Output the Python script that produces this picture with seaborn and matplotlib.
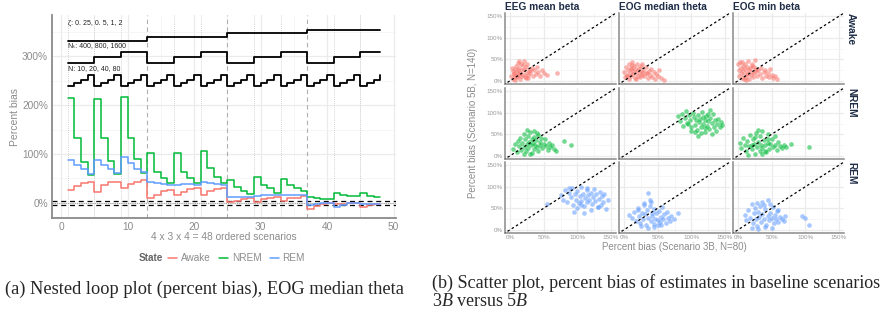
import itertools
import numpy as np
import pandas as pd
import seaborn as sns
import matplotlib
matplotlib.use("Agg")
import matplotlib.pyplot as plt
from matplotlib.lines import Line2D
from matplotlib.ticker import FuncFormatter, MultipleLocator

# ---- (a) nested loop plot, EOG median theta ----
scenarios = list(range(1, 49))
awake_bias = [26, 34, 41, 43, 23, 36, 42, 43, 30, 38, 42, 47,
              9, 17, 24, 26, 16, 23, 29, 30, 17, 24, 29, 31,
              2, 4, 7, 10, 2, 8, 10, 13, 4, 9, 11, 14,
              -13, -6, -2, 0, -3, -2, -1, -1, -8, -4, -2, -2]
nrem_bias = [214, 133, 84, 58, 212, 132, 85, 60, 217, 132, 89, 62,
             103, 64, 50, 40, 103, 64, 50, 40, 106, 71, 52, 41,
             47, 33, 25, 18, 53, 36, 30, 21, 48, 36, 30, 25,
             13, 10, 8, 8, 21, 16, 14, 14, 21, 15, 13, 13]
rem_bias = [88, 77, 69, 60, 88, 77, 69, 61, 95, 81, 69, 64,
            42, 40, 38, 36, 37, 38, 38, 37, 42, 40, 38, 36,
            12, 12, 13, 13, 15, 16, 16, 16, 16, 17, 17, 17,
            -5, -2, -1, 0, -8, -4, -1, 0, -2, -2, -3, -3]

# design parameters (outer -> inner loop) and heights of their step lines
zeta_levels = [0.25, 0.5, 1, 2]
nt_levels = [400, 800, 1600]
n_levels = [10, 20, 40, 80]
zeta_heights = [332, 340, 348, 355]
nt_heights = [287, 299, 309]
n_heights = [240, 246, 252, 263]

states = ["Awake", "NREM", "REM"]
state_colors = {"Awake": "#F8766D", "NREM": "#00BA38", "REM": "#619CFF"}

# ---- (b) scatter, scenario 3B (x) vs 5B (y), percent bias ----
features = ["EEG mean beta", "EOG median theta", "EOG min beta"]

aw_eeg_x = [2, 4, 5, 6, 7, 8, 9, 10, 11, 12, 12, 13, 14, 15, 15, 16, 17, 18, 19, 20, 21, 22, 23, 24,
            25, 26, 27, 28, 30, 32, 34, 36, 38, 40, 42, 45, 48, 50, 55, 70, 3, 8, 14, 19, 24, 29, 11, 6]
aw_eeg_y = [10, 22, 5, 15, 28, 12, 35, 20, 8, 25, 42, 16, 30, 4, 18, 11, 38, 24, 14, 47, 27, 9, 33, 19,
            40, 13, 6, 22, 17, 29, 10, 24, 15, 31, 20, 12, 26, 18, 14, 17, 30, 2, 45, 36, 7, 25, 12, 18]
aw_med_x = [0, 2, 3, 5, 6, 7, 8, 9, 10, 11, 12, 13, 14, 15, 16, 17, 18, 19, 20, 21, 22, 23, 24, 25,
            26, 27, 28, 30, 32, 33, 35, 37, 38, 40, 42, 44, 46, 48, 50, 52, 55, 60, 4, 10, 18, 26, 34, 12]
aw_med_y = [20, 8, 32, 14, 25, 4, 38, 18, 28, 10, 44, 22, 15, 34, 6, 27, 19, 40, 12, 24, 30, 8, 17, 35,
            21, 13, 26, 10, 18, 31, 6, 22, 14, 28, 9, 20, 5, 16, 11, 24, 7, 2, 12, 30, 3, 38, 18, 36]
aw_min_x = [0, 1, 2, 3, 4, 5, 6, 7, 8, 9, 10, 11, 12, 13, 14, 15, 16, 17, 18, 19, 20, 21, 22, 23,
            24, 25, 26, 28, 30, 32, 34, 36, 38, 40, 42, 44, 46, 48, 50, 52, 55, 58, 6, 12, 20, 27, 15, 9]
aw_min_y = [40, 25, 12, 43, 18, 30, 6, 35, 22, 14, 40, 27, 9, 33, 19, 45, 24, 4, 29, 13, 38, 20, 8, 31,
            17, 48, 23, 11, 26, 16, 30, 7, 20, 24, 12, 18, 9, 28, 14, 6, 10, 4, 44, 2, 34, 27, 15, 5]

nr_eeg_x = [5, 8, 10, 12, 14, 15, 17, 18, 20, 21, 22, 24, 25, 26, 27, 28, 30, 31, 32, 33, 34, 35, 36, 37,
            38, 40, 41, 42, 44, 45, 46, 48, 50, 52, 54, 56, 58, 60, 62, 65, 68, 80, 90, 20, 30, 40, 25, 35]
nr_eeg_y = [15, 28, 8, 35, 22, 42, 14, 30, 50, 20, 38, 10, 27, 45, 18, 33, 55, 24, 6, 40, 30, 15, 58, 26,
            36, 20, 48, 12, 32, 25, 42, 18, 28, 38, 22, 14, 30, 20, 26, 16, 12, 35, 25, 5, 3, 52, 60, 44]
nr_med_x = [80, 83, 86, 88, 90, 92, 94, 96, 98, 100, 102, 104, 105, 107, 108, 110, 112, 113, 115, 116, 118, 120, 121, 122,
            124, 125, 126, 128, 130, 131, 132, 134, 135, 136, 138, 140, 142, 144, 146, 110, 115, 120, 125, 100, 95, 128, 118, 106]
nr_med_y = [92, 80, 98, 70, 88, 104, 76, 95, 84, 66, 100, 90, 72, 82, 60, 94, 78, 86, 68, 102, 74, 84, 55, 92,
            70, 80, 62, 88, 76, 50, 96, 66, 82, 58, 74, 86, 68, 78, 72, 46, 52, 64, 98, 58, 74, 106, 90, 56]
nr_min_x = [3, 5, 8, 10, 12, 14, 16, 18, 20, 22, 24, 25, 26, 28, 30, 32, 33, 34, 35, 36, 38, 40, 42, 44,
            45, 46, 48, 50, 52, 55, 58, 60, 62, 65, 68, 72, 78, 105, 15, 25, 35, 45, 30, 40, 20, 55]
nr_min_y = [30, 18, 42, 25, 10, 35, 22, 48, 15, 38, 28, 5, 52, 20, 33, 12, 45, 26, 58, 18, 36, 24, 8, 30,
            50, 16, 28, 38, 20, 26, 14, 32, 22, 18, 24, 20, 28, 20, 2, 44, 4, 40, 60, 12, 26, 46]

rm_eeg_x = [55, 75, 78, 82, 85, 88, 90, 92, 94, 96, 98, 100, 102, 104, 105, 106, 108, 110, 112, 114, 115, 116, 118, 120,
            122, 124, 125, 126, 128, 130, 132, 134, 135, 136, 138, 140, 142, 145, 95, 100, 110, 120, 130, 115, 105, 88]
rm_eeg_y = [60, 80, 70, 92, 64, 86, 76, 98, 58, 82, 70, 90, 62, 78, 100, 68, 84, 56, 74, 92, 64, 80, 70, 86,
            60, 76, 94, 66, 82, 52, 72, 88, 58, 78, 64, 84, 48, 70, 42, 50, 40, 46, 54, 96, 58, 98]
rm_med_x = [8, 12, 15, 18, 20, 22, 24, 26, 28, 30, 31, 32, 34, 35, 36, 38, 40, 41, 42, 44, 45, 46, 48, 50,
            52, 54, 55, 56, 58, 60, 62, 64, 66, 68, 70, 74, 80, 25, 35, 45, 55, 30, 40, 50, 20, 38]
rm_med_y = [35, 28, 42, 20, 50, 32, 15, 40, 25, 62, 36, 10, 46, 85, 28, 55, 20, 40, 32, 14, 48, 26, 38, 22,
            44, 18, 30, 52, 24, 36, 16, 42, 28, 20, 32, 24, 38, 8, 4, 6, 12, 58, 64, 10, 45, 70]
rm_min_x = [10, 12, 15, 18, 20, 22, 24, 25, 26, 28, 30, 31, 32, 34, 35, 36, 38, 40, 42, 44, 45, 46, 48, 50,
            52, 54, 55, 56, 58, 60, 62, 65, 68, 70, 95, 100, 105, 20, 30, 40, 50, 28, 38, 48, 60]
rm_min_y = [35, 22, 45, 28, 60, 15, 38, 50, 25, 8, 42, 30, 55, 18, 65, 36, 24, 48, 12, 32, 70, 22, 40, 28,
            52, 16, 35, 24, 44, 18, 30, 26, 20, 32, 32, 28, 12, 5, 2, 6, 4, 62, 58, 60, 45]

scatter_sets = {
    ("Awake", "EEG mean beta"): (aw_eeg_x, aw_eeg_y),
    ("Awake", "EOG median theta"): (aw_med_x, aw_med_y),
    ("Awake", "EOG min beta"): (aw_min_x, aw_min_y),
    ("NREM", "EEG mean beta"): (nr_eeg_x, nr_eeg_y),
    ("NREM", "EOG median theta"): (nr_med_x, nr_med_y),
    ("NREM", "EOG min beta"): (nr_min_x, nr_min_y),
    ("REM", "EEG mean beta"): (rm_eeg_x, rm_eeg_y),
    ("REM", "EOG median theta"): (rm_med_x, rm_med_y),
    ("REM", "EOG min beta"): (rm_min_x, rm_min_y),
}

# ---------------------------------------------------------------
sns.set_style("white")
plt.rcParams["font.family"] = ["Liberation Sans", "DejaVu Sans"]
plt.rcParams["mathtext.fontset"] = "custom"
plt.rcParams["mathtext.rm"] = "Liberation Serif"
plt.rcParams["mathtext.it"] = "Liberation Serif:italic"

W, H = 893, 316
fig = plt.figure(figsize=(W / 100, H / 100), dpi=100)


def px_axes(x0, y0, x1, y1):
    return fig.add_axes([x0 / W, 1 - y1 / H, (x1 - x0) / W, (y1 - y0) / H])


pct = FuncFormatter(lambda v, p: f"{v:.0f}%")
grid_major = dict(color="#EBEBEB", lw=0.9)
grid_minor = dict(color="#F3F3F3", lw=0.5)
axis_grey = "#8A8A8A"

# ---- left panel ----
ax = px_axes(52, 15, 396, 218)
long = pd.DataFrame({
    "scenario": scenarios * 3,
    "bias": awake_bias + nrem_bias + rem_bias,
    "State": sum([[s] * len(scenarios) for s in states], []),
})

design = list(itertools.product(range(len(zeta_levels)), range(len(nt_levels)), range(len(n_levels))))
zeta_line = [zeta_heights[d[0]] for d in design]
nt_line = [nt_heights[d[1]] for d in design]
n_line = [n_heights[d[2]] for d in design]

# guide lines for the loops
for i, s in enumerate(scenarios):
    if i % 12 == 0 and i > 0:
        ax.axvline(s, color="#B0B0B0", lw=0.8, ls=(0, (4, 3)), zorder=1)
    elif i % 4 == 0:
        ax.axvline(s, color="#C4C4C4", lw=0.6, ls=(0, (1, 1.5)), zorder=1)

ax.axhline(0, color="#A0A0A0", lw=0.8, ls=(0, (1, 1)), zorder=2)
ax.axhline(4, color="black", lw=0.9, ls=(0, (4, 3)), zorder=2)
ax.axhline(-4, color="black", lw=0.9, ls=(0, (4, 3)), zorder=2)

sns.lineplot(data=long, x="scenario", y="bias", hue="State", palette=state_colors,
             estimator=None, drawstyle="steps-post", lw=1.1, legend=False, ax=ax, zorder=3)
for line in (zeta_line, nt_line, n_line):
    sns.lineplot(x=scenarios, y=line, color="black", drawstyle="steps-post", lw=1.3,
                 estimator=None, ax=ax, zorder=3)

txt_kw = dict(fontsize=5, color="#222222", ha="left", va="center")
ax.text(1, 369, "ζ: 0. 25, 0. 5, 1, 2", **txt_kw)
ax.text(1, 322, "Nₜ: 400, 800, 1600", **txt_kw)
ax.text(1, 276, "N: 10, 20, 40, 80", **txt_kw)

ax.set_xlim(-1.35, 50.35)
ax.set_ylim(-31, 385)
ax.xaxis.set_major_locator(MultipleLocator(10))
ax.xaxis.set_minor_locator(MultipleLocator(5))
ax.yaxis.set_major_locator(MultipleLocator(100))
ax.yaxis.set_minor_locator(MultipleLocator(50))
ax.yaxis.set_major_formatter(pct)
ax.grid(which="major", **grid_major)
ax.grid(which="minor", **grid_minor)
ax.set_axisbelow(True)
ax.tick_params(length=0, labelsize=7.3, labelcolor="#8C8C8C", pad=3)
for side in ["top", "right"]:
    ax.spines[side].set_visible(False)
for side in ["left", "bottom"]:
    ax.spines[side].set_color(axis_grey)
    ax.spines[side].set_linewidth(1.3)
ax.set_xlabel("")
ax.set_ylabel("")
fig.text(15 / W, 1 - 117 / H, "Percent bias", rotation=90, ha="center", va="center",
         fontsize=7.5, color="#8C8C8C")
fig.text(224 / W, 1 - 237 / H, "4 x 3 x 4 = 48 ordered scenarios", ha="center", va="center",
         fontsize=7.3, color="#8C8C8C")

fig.text(151 / W, 1 - 258 / H, "State", ha="center", va="center", fontsize=7.2,
         fontweight="bold", color="#666666")
handles = [Line2D([], [], color=state_colors[s], lw=1.1) for s in states]
leg = fig.legend(handles, states, loc="center left", bbox_to_anchor=(168 / W, 1 - 258 / H), ncol=3,
                 frameon=False, fontsize=7.2, handlelength=0.9, handletextpad=0.4,
                 columnspacing=0.8, borderpad=0, borderaxespad=0)
for t in leg.get_texts():
    t.set_color("#8C8C8C")

fig.text(204 / W, 1 - 289 / H, "(a) Nested loop plot (percent bias), EOG median theta",
         ha="center", va="center", fontsize=13.2, family="Liberation Serif")

# ---- right panel: facet grid ----
col_x = [505, 619, 733]
row_y = [13, 88, 162]
pw, ph = 111, 71
lim = (-7.5, 157.5)
for r, state in enumerate(states):
    for c, feat in enumerate(features):
        ax2 = px_axes(col_x[c], row_y[r], col_x[c] + pw, row_y[r] + ph)
        xs, ys = scatter_sets[(state, feat)]
        sns.scatterplot(x=xs, y=ys, color=state_colors[state], s=11, alpha=0.55,
                        linewidth=0, ax=ax2, zorder=3)
        ax2.plot([-10, 170], [-10, 170], color="black", lw=0.9, ls=(0, (2, 2)), zorder=4)
        ax2.set_xlim(lim)
        ax2.set_ylim(lim)
        for a in (ax2.xaxis, ax2.yaxis):
            a.set_major_locator(MultipleLocator(50))
            a.set_minor_locator(MultipleLocator(25))
            a.set_major_formatter(pct)
        ax2.grid(which="major", **grid_major)
        ax2.grid(which="minor", **grid_minor)
        ax2.set_axisbelow(True)
        ax2.tick_params(length=0, labelsize=4.5, labelcolor="#9A9A9A", pad=1.5)
        if c > 0:
            ax2.tick_params(labelleft=False)
        if r < 2:
            ax2.tick_params(labelbottom=False)
        for side in ["top", "right"]:
            ax2.spines[side].set_visible(False)
        for side in ["left", "bottom"]:
            ax2.spines[side].set_color(axis_grey)
            ax2.spines[side].set_linewidth(1.1)
        if r == 0:
            ax2.text(0, 1.02, feat, transform=ax2.transAxes, ha="left", va="bottom",
                     fontsize=7.3, fontweight="bold", color="#1F2D47")
        if c == 2:
            ax2.text(1.02, 1.0, state, transform=ax2.transAxes, ha="left", va="top",
                     rotation=270, fontsize=7.3, fontweight="bold", color="#1F2D47")

fig.text(473 / W, 1 - 123 / H, "Percent bias (Scenario 5B, N=140)", rotation=90,
         ha="center", va="center", fontsize=7, color="#8C8C8C")
fig.text(674 / W, 1 - 247 / H, "Percent bias (Scenario 3B, N=80)", ha="center", va="center",
         fontsize=7, color="#8C8C8C")

fig.text(432 / W, 1 - 283 / H, "(b) Scatter plot, percent bias of estimates in baseline scenarios",
         ha="left", va="center", fontsize=13.0, family="Liberation Serif")
fig.text(432 / W, 1 - 301 / H, r"3$B$ versus 5$B$", ha="left", va="center",
         fontsize=13.0, family="Liberation Serif")

fig.savefig("out.png", dpi=100)
